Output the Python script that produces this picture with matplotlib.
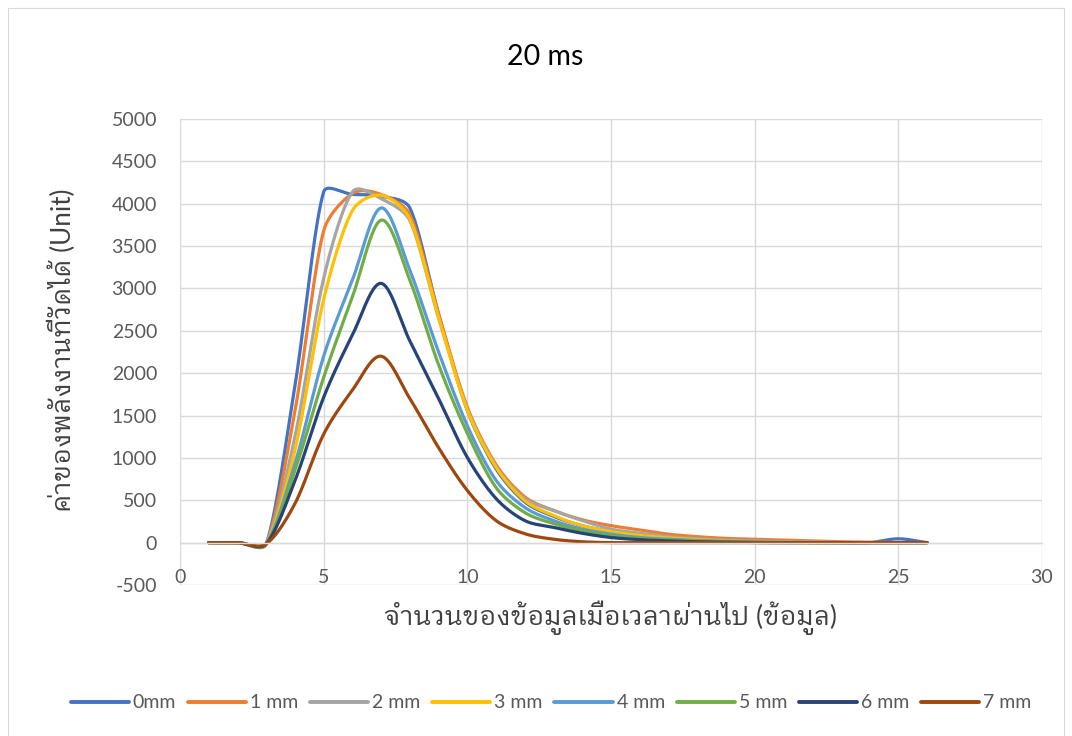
import numpy as np
import matplotlib
matplotlib.use("Agg")
import matplotlib.pyplot as plt
from matplotlib import font_manager
from matplotlib.patches import Rectangle

# ---- data -------------------------------------------------------------
x_points = list(range(1, 27))

s0mm = [0, 0, -15, 1850, 4140, 4110, 4090, 3950, 2700, 1560, 870, 480, 310,
        200, 130, 90, 60, 40, 25, 15, 10, 5, 0, 0, 45, 0]
s1mm = [0, 0, -15, 1550, 3680, 4120, 4110, 3870, 2700, 1600, 920, 540, 380,
        270, 200, 150, 100, 70, 50, 40, 30, 20, 10, 5, 0, 0]
s2mm = [0, 0, -15, 1250, 3120, 4140, 4060, 3800, 2650, 1580, 900, 520, 380,
        260, 160, 110, 70, 45, 30, 20, 10, 5, 0, 0, 0, 0]
s3mm = [0, 0, -15, 1090, 2870, 3920, 4100, 3820, 2660, 1560, 890, 495, 320,
        200, 130, 85, 55, 35, 20, 10, 5, 0, 0, 0, 0, 0]
s4mm = [0, 0, -15, 930, 2200, 3100, 3950, 3215, 2250, 1380, 735, 415, 260,
        160, 100, 60, 40, 25, 15, 10, 5, 0, 0, 0, 0, 0]
s5mm = [0, 0, -15, 850, 1950, 2900, 3806, 3097, 2100, 1290, 650, 355, 225,
        140, 80, 50, 30, 20, 10, 5, 0, 0, 0, 0, 0, 0]
s6mm = [0, 0, -15, 730, 1715, 2450, 3060, 2380, 1700, 1005, 520, 260, 180,
        110, 60, 35, 20, 10, 5, 0, 0, 0, 0, 0, 0, 0]
s7mm = [0, 0, -15, 460, 1280, 1800, 2200, 1700, 1120, 615, 260, 105, 40,
        10, 0, 0, 0, 0, 0, 0, 0, 0, 0, 0, 0, 0]

series = [s0mm, s1mm, s2mm, s3mm, s4mm, s5mm, s6mm, s7mm]
series_names = ["0mm", "1 mm", "2 mm", "3 mm", "4 mm", "5 mm", "6 mm", "7 mm"]
colors = ["#4472C4", "#ED7D31", "#A5A5A5", "#FFC000",
          "#5B9BD5", "#70AD47", "#264478", "#9E480E"]

title_text = "20 ms"
x_label = "จำนวนของข้อมูลเมื่อเวลาผ่านไป (ข้อมูล)"
y_label = "ค่าของพลังงานที่วัดได้ (Unit)"
x_ticks = [0, 5, 10, 15, 20, 25, 30]
y_ticks = list(range(-500, 5001, 500))


# ---- fonts ------------------------------------------------------------
def find_thai_font():
    try:
        from fontTools.ttLib import TTFont
    except Exception:
        return None
    best = None
    for fe in font_manager.fontManager.ttflist:
        try:
            tt = TTFont(fe.fname, fontNumber=0, lazy=True)
            cmap = tt.getBestCmap() or {}
            if all(ord(c) in cmap for c in "จำนวนข้อมูลเมื่อ"):
                score = 0
                name = fe.name.lower()
                if "thai" in name:
                    score += 2
                if "looped" in name:
                    score += 1
                if fe.weight in ("normal", 400, "regular"):
                    score += 1
                if best is None or score > best[0]:
                    best = (score, fe.name)
        except Exception:
            continue
    return best[1] if best else None


thai_font = find_thai_font()
latin_font = "Lato"
families = [latin_font] + ([thai_font] if thai_font else []) + ["DejaVu Sans"]
plt.rcParams["font.family"] = families
plt.rcParams["axes.unicode_minus"] = False


# ---- smoothing: Catmull-Rom Bezier in display space, with the control
# arms capped at a third of their segment so steep steps don't overshoot
def smooth(ax, xs, ys, cap=1 / 3, n=40):
    pts = ax.transData.transform(np.column_stack([xs, ys]).astype(float))
    m = len(pts)
    arm = np.empty_like(pts)
    arm[0] = (pts[1] - pts[0]) / 3
    arm[-1] = (pts[-1] - pts[-2]) / 3
    arm[1:-1] = (pts[2:] - pts[:-2]) / 6
    t = np.linspace(0, 1, n, endpoint=False)[:, None]
    out = []

    def limited(v, d):
        L = np.linalg.norm(v)
        if L > d * cap and L > 0:
            return v * (d * cap / L)
        return v

    for i in range(m - 1):
        p0, p3 = pts[i], pts[i + 1]
        d = np.linalg.norm(p3 - p0)
        p1 = p0 + limited(arm[i], d)
        p2 = p3 - limited(arm[i + 1], d)
        seg = ((1 - t) ** 3) * p0 + 3 * ((1 - t) ** 2) * t * p1 \
            + 3 * (1 - t) * t ** 2 * p2 + t ** 3 * p3
        out.append(seg)
    out.append(pts[-1][None, :])
    disp = np.vstack(out)
    data = ax.transData.inverted().transform(disp)
    return data[:, 0], data[:, 1]


# ---- figure -----------------------------------------------------------
fig = plt.figure(figsize=(10.72, 7.36), dpi=100)
fig.patch.set_facecolor("white")
fig.add_artist(Rectangle((0.007, -0.05), 0.986, 1.039, transform=fig.transFigure,
                         fill=False, edgecolor="#d9d9d9", linewidth=0.8))

ax = fig.add_axes([0.1679, 0.2052, 0.8041, 0.6331])
ax.set_xlim(0, 30)
ax.set_ylim(-500, 5000)
ax.set_xticks(x_ticks)
ax.set_yticks(y_ticks)
ax.grid(True, color="#d9d9d9", linewidth=1.0)
ax.set_axisbelow(True)
for side in ("top", "right", "left"):
    ax.spines[side].set_visible(False)
ax.spines["bottom"].set_position(("data", 0))
ax.spines["bottom"].set_color("#d9d9d9")
ax.spines["bottom"].set_linewidth(1.0)
ax.tick_params(axis="both", length=0, labelsize=14, labelcolor="#595959")
ax.tick_params(axis="x", pad=19)
ax.tick_params(axis="y", pad=16.5)

for ys, name, col in zip(series, series_names, colors):
    sx, sy = smooth(ax, x_points, ys)
    ax.plot(sx, sy, color=col, linewidth=2.3, label=name,
            solid_capstyle="round", solid_joinstyle="round")

fig.text(0.509, 0.922, title_text, ha="center", va="center",
         fontsize=20.5, color="black")
fig.text(0.569, 0.161, x_label, ha="center", va="center",
         fontsize=18.8, color="#404040")
fig.text(0.058, 0.524, y_label, ha="center", va="center", rotation=90,
         fontsize=18.8, color="#404040")

handles, labels = ax.get_legend_handles_labels()
leg = fig.legend(handles, labels, loc="center", bbox_to_anchor=(0.514, 0.045),
                 ncol=8, frameon=False, fontsize=14, handlelength=3.0,
                 handletextpad=0.2, columnspacing=0.6)
for txt in leg.get_texts():
    txt.set_color("#595959")
for line in leg.get_lines():
    line.set_linewidth(2.8)

fig.savefig("out.png", dpi=100, facecolor="white")
